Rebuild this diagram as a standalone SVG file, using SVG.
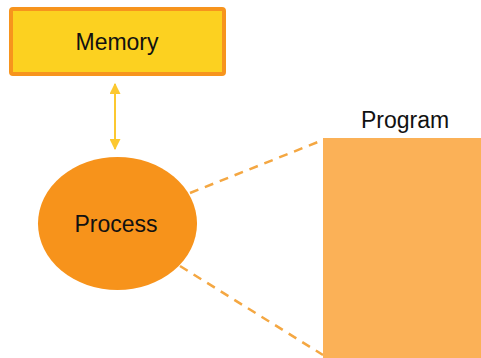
<svg xmlns="http://www.w3.org/2000/svg" width="481" height="358" viewBox="0 0 481 358">
<defs>
<style>
text{font-family:"Liberation Sans",Arial,sans-serif;fill:#111;text-anchor:middle;font-size:23px}
.dash{stroke:#F4A742;stroke-width:2.5;stroke-dasharray:9 7;fill:none}
</style>
<marker id="ah" viewBox="0 0 10 10" refX="9" refY="5" markerWidth="5.5" markerHeight="5.5" orient="auto-start-reverse">
<path d="M0,0 L10,5 L0,10 z" fill="#FCC830"/>
</marker>
</defs>
<rect width="481" height="358" fill="#fff"/>
<g id="connectors">
<line x1="115" y1="84" x2="115" y2="149" stroke="#FCC830" stroke-width="2" marker-start="url(#ah)" marker-end="url(#ah)"/>
<line class="dash" x1="190" y1="193" x2="323" y2="140"/>
<line class="dash" x1="180" y1="266" x2="323" y2="355"/>
</g>
<g id="memory">
<rect x="11" y="9" width="213" height="65" rx="2" fill="#FCD120" stroke="#F7941D" stroke-width="4"/>
<text x="117" y="50">Memory</text>
</g>
<g id="process">
<ellipse cx="117.5" cy="223.5" rx="79.5" ry="66.5" fill="#F7931B"/>
<text x="116" y="232">Process</text>
</g>
<g id="program">
<rect x="323" y="138" width="160" height="222" fill="#FBB157"/>
<text x="405" y="128">Program</text>
</g>
</svg>
